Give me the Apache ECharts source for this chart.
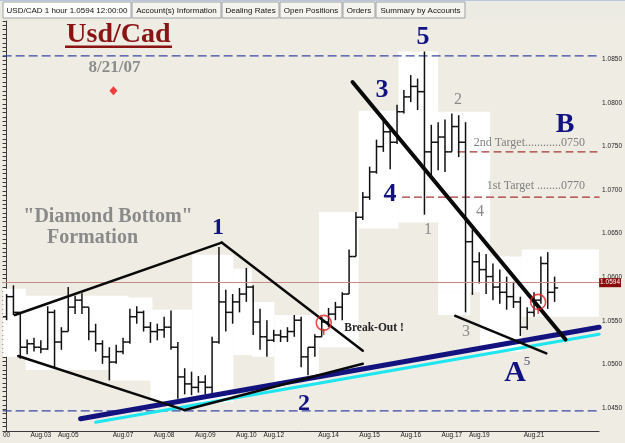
<!DOCTYPE html>
<html>
<head>
<meta charset="utf-8">
<script src="https://cdn.jsdelivr.net/npm/echarts@6/dist/echarts.min.js"></script>
<style>
  html, body { margin: 0; padding: 0; background: #eeece3; }
  #chart { width: 625px; height: 443px; }
</style>
</head>
<body>
<div id="chart"></div>
<script>
// 4-hour bars, USD/CAD, Aug.02 – Aug.21 2007
const labelNames = ['00', 'Aug.03', 'Aug.05', 'Aug.07', 'Aug.08', 'Aug.09', 'Aug.10', 'Aug.12', 'Aug.14', 'Aug.15', 'Aug.16', 'Aug.17', 'Aug.19', 'Aug.21']
const labelIdx = [0, 5, 9, 17, 23, 29, 35, 39, 47, 53, 59, 65, 69, 77]
const slotCount = 87

const opens = [1.0561, 1.0584, 1.0566, 1.0526, 1.0530, 1.0526, 1.0524, 1.0566, 1.0532, 1.0544,
  1.0572, 1.0580, 1.0572, 1.0544, 1.0530, 1.0515, 1.0509, 1.0521, 1.0532, 1.0561,
  1.0566, 1.0549, 1.0544, 1.0546, 1.0549, 1.0526, 1.0492, 1.0484, 1.0480, 1.0486,
  1.0480, 1.0532, 1.0578, 1.0566, 1.0578, 1.0587, 1.0595, 1.0555, 1.0538, 1.0534,
  1.0540, 1.0538, 1.0544, 1.0557, 1.0515, 1.0526, 1.0538, 1.0555, 1.0564, 1.0572,
  1.0587, 1.0630, 1.0675, 1.0698, 1.0727, 1.0756, 1.0773, 1.0761, 1.0796, 1.0813,
  1.0825, 1.0819, 1.0750, 1.0761, 1.0767, 1.0750, 1.0779, 1.0761, 1.0647, 1.0624,
  1.0615, 1.0607, 1.0595, 1.0589, 1.0584, 1.0578, 1.0549, 1.0566, 1.0580, 1.0622, 1.0589]
const highs = [1.0587, 1.0597, 1.0566, 1.0535, 1.0537, 1.0534, 1.0573, 1.0569, 1.0549, 1.0595,
  1.0585, 1.0588, 1.0572, 1.0553, 1.0534, 1.0526, 1.0529, 1.0537, 1.0570, 1.0573,
  1.0568, 1.0555, 1.0553, 1.0561, 1.0568, 1.0532, 1.0502, 1.0498, 1.0493, 1.0494,
  1.0538, 1.0641, 1.0592, 1.0587, 1.0594, 1.0617, 1.0597, 1.0570, 1.0557, 1.0546,
  1.0546, 1.0549, 1.0563, 1.0561, 1.0526, 1.0541, 1.0561, 1.0571, 1.0578, 1.0589,
  1.0638, 1.0681, 1.0704, 1.0733, 1.0764, 1.0787, 1.0779, 1.0804, 1.0821, 1.0838,
  1.0834, 1.0865, 1.0781, 1.0784, 1.0787, 1.0794, 1.0792, 1.0784, 1.0661, 1.0635,
  1.0633, 1.0622, 1.0615, 1.0607, 1.0601, 1.0584, 1.0572, 1.0589, 1.0630, 1.0635, 1.0607]
const lows = [1.0557, 1.0563, 1.0513, 1.0518, 1.0521, 1.0519, 1.0523, 1.0502, 1.0523, 1.0544,
  1.0564, 1.0564, 1.0534, 1.0521, 1.0507, 1.0488, 1.0507, 1.0518, 1.0530, 1.0553,
  1.0544, 1.0531, 1.0534, 1.0537, 1.0523, 1.0467, 1.0472, 1.0471, 1.0474, 1.0472,
  1.0472, 1.0530, 1.0544, 1.0553, 1.0566, 1.0578, 1.0540, 1.0523, 1.0515, 1.0532,
  1.0532, 1.0532, 1.0538, 1.0503, 1.0494, 1.0515, 1.0538, 1.0549, 1.0557, 1.0557,
  1.0587, 1.0630, 1.0672, 1.0695, 1.0725, 1.0750, 1.0730, 1.0759, 1.0794, 1.0807,
  1.0798, 1.0678, 1.0721, 1.0729, 1.0727, 1.0750, 1.0744, 1.0566, 1.0586, 1.0599,
  1.0587, 1.0580, 1.0576, 1.0569, 1.0571, 1.0539, 1.0546, 1.0561, 1.0576, 1.0570, 1.0578]
const closes = [1.0584, 1.0566, 1.0526, 1.0530, 1.0526, 1.0524, 1.0566, 1.0532, 1.0544, 1.0572,
  1.0580, 1.0572, 1.0544, 1.0530, 1.0515, 1.0509, 1.0521, 1.0532, 1.0561, 1.0566,
  1.0549, 1.0544, 1.0546, 1.0549, 1.0526, 1.0492, 1.0484, 1.0480, 1.0486, 1.0480,
  1.0532, 1.0578, 1.0566, 1.0578, 1.0587, 1.0595, 1.0555, 1.0538, 1.0534, 1.0540,
  1.0538, 1.0544, 1.0557, 1.0515, 1.0526, 1.0538, 1.0555, 1.0564, 1.0572, 1.0587,
  1.0630, 1.0675, 1.0698, 1.0727, 1.0756, 1.0773, 1.0761, 1.0796, 1.0813, 1.0825,
  1.0819, 1.0750, 1.0761, 1.0767, 1.0750, 1.0779, 1.0761, 1.0647, 1.0624, 1.0615,
  1.0607, 1.0595, 1.0589, 1.0584, 1.0578, 1.0549, 1.0566, 1.0580, 1.0622, 1.0589, 1.0594]

// drawn trend lines, [bar index, price] end points
const diamondLines = [
  [[1.2, 1.0563], [31.4, 1.0646]],
  [[31.4, 1.0646], [52.0, 1.0522]],
  [[1.7, 1.0516], [26.0, 1.0454]],
  [[26.0, 1.0454], [52.0, 1.0507]]
]
const wedgeTop = [[50.5, 1.0830], [81.6, 1.0535]]
const wedgeBottom = [[65.5, 1.0562], [78.8, 1.0519]]
const navyTrend = [[10.8, 1.0444], [86.5, 1.0549]]
const cyanTrend = [[13.0, 1.0440], [86.5, 1.0541]]
const blueLevels = [1.0860, 1.0453]
const targetLevels = [[65.9, 1.0750], [57.8, 1.0698]]
const breakPoints = [[46.3, 1.0554], [77.6, 1.0578]]
const datePoint = [[15.6, 1.0820]]
// white patches behind the price, [from bar, to bar, price top, price bottom]
const whitePatches = [
  [-0.5, 2.8, 1.0593, 1.0515], [2.8, 17.8, 1.0585, 1.0500], [15.2, 21.3, 1.0583, 1.0488],
  [21.0, 27.1, 1.0569, 1.0463], [27.1, 33.1, 1.0632, 1.0463], [33.1, 35.8, 1.0616, 1.0517],
  [35.8, 39.1, 1.0578, 1.0515], [39.1, 45.6, 1.0563, 1.0486], [45.6, 51.4, 1.0681, 1.0526],
  [51.4, 57.2, 1.0797, 1.0662], [57.2, 63.0, 1.0865, 1.0669], [63.0, 70.6, 1.0796, 1.0589],
  [63.0, 67.7, 1.0589, 1.0563], [69.1, 75.2, 1.0630, 1.0521], [75.2, 86.5, 1.0638, 1.0561]
]

const categories = []
for (let i = 0; i < slotCount; i++) {
  const k = labelIdx.indexOf(i)
  categories.push(k >= 0 ? labelNames[k] : '#' + i)
}
const bars = opens.map((o, i) => [i, o, closes[i], lows[i], highs[i]])
const lastPrice = closes[closes.length - 1]

const serif = '"Liberation Serif", "DejaVu Serif", serif'
const navy = '#11117f'
const grey = '#8a8a8a'

function txt(text, x, y, size, color, bold, align) {
  return {
    type: 'text',
    z: 50,
    style: {
      text: text, x: x, y: y,
      font: (bold ? 'bold ' : '') + size + 'px ' + serif,
      fill: color,
      align: align || 'center', textAlign: align || 'center',
      verticalAlign: 'middle', textVerticalAlign: 'middle'
    }
  }
}

function segment(points, color, width, z, dash) {
  return {
    type: 'line', xAxisIndex: 1, yAxisIndex: 0, data: points,
    showSymbol: false, silent: true, z: z,
    lineStyle: { color: color, width: width, type: dash || 'solid', cap: 'round' }
  }
}

const tabs = [
  ['USD/CAD 1 hour 1.0594 12:00:00', 3, 131],
  ['Account(s) Information', 132, 221],
  ['Dealing Rates', 222, 279],
  ['Open Positions', 280, 342],
  ['Orders', 343, 375],
  ['Summary by Accounts', 376, 465]
]
const tabGraphics = [{ type: 'rect', z: 40, shape: { x: 0, y: 0, width: 625, height: 19 }, style: { fill: '#ecebe3' } },
  { type: 'rect', z: 40, shape: { x: 0, y: 0, width: 625, height: 1 }, style: { fill: '#b9c7de' } }]
tabs.forEach((t, i) => {
  tabGraphics.push({
    type: 'rect', z: 41,
    shape: { x: t[1], y: 2, width: t[2] - t[1], height: 16 },
    style: { fill: i === 0 ? '#fdfdfb' : '#f5f4ee', stroke: '#9ea3a6', lineWidth: 1 }
  })
  tabGraphics.push({
    type: 'text', z: 42,
    style: {
      text: t[0], x: (t[1] + t[2]) / 2, y: 10.5,
      font: '8px "Liberation Sans", Arial, sans-serif', fill: '#111',
      align: 'center', textAlign: 'center', verticalAlign: 'middle', textVerticalAlign: 'middle'
    }
  })
})

const chart = echarts.init(document.getElementById('chart'))
const option = {
  animation: false,
  backgroundColor: '#eeece3',
  grid: { left: 0, right: 25, top: 21, bottom: 12 },
  xAxis: [
    {
      type: 'category', data: categories, boundaryGap: true,
      axisLine: { lineStyle: { color: '#3a3a3a', width: 1 } },
      axisTick: { inside: true, length: 4, interval: (i, v) => v[0] !== '#', lineStyle: { color: '#3a3a3a' } },
      axisLabel: {
        interval: 0, fontSize: 6.5, color: '#222', margin: 1,
        fontFamily: 'Liberation Sans',
        formatter: v => (v[0] === '#' ? '' : v)
      },
      splitLine: { show: false }
    },
    { type: 'value', min: -0.5, max: 86.5, show: false }
  ],
  yAxis: {
    type: 'value', position: 'right', min: 1.043, max: 1.09, interval: 0.0005,
    axisLine: { show: true, lineStyle: { color: '#3a3a3a' } },
    axisTick: { show: true, inside: true, length: 4, lineStyle: { color: '#3a3a3a' } },
    axisLabel: {
      interval: 0, fontSize: 6.5, color: '#222', margin: 3, fontFamily: 'Liberation Sans',
      verticalAlign: 'bottom', padding: [0, 0, 2, 0],
      formatter: v => (Math.round(v * 10000) % 50 === 0 ? v.toFixed(4) : '')
    },
    splitLine: { show: false }
  },
  graphic: tabGraphics.concat([
    txt('Usd/Cad', 118.5, 35, 28, '#8a1414', true),
    { type: 'rect', z: 50, shape: { x: 65, y: 45.5, width: 107, height: 2.5 }, style: { fill: '#8a1414' } },
    txt('8/21/07', 114.5, 68, 17, '#8c8c8c', true),
    txt('"Diamond Bottom"', 108, 217, 20, grey, true),
    txt('Formation', 92.5, 238, 20, grey, true),
    txt('1', 218, 228, 24, navy, true),
    txt('2', 304, 404, 24, navy, true),
    txt('3', 382, 90, 26, navy, true),
    txt('4', 390, 194, 26, navy, true),
    txt('5', 423, 37, 26, navy, true),
    txt('B', 565, 125, 28, navy, true),
    txt('A', 515, 373, 30, navy, true),
    txt('5', 527, 362, 13, '#4c4c72', false),
    txt('2', 458, 100, 16, grey, false),
    txt('1', 428, 230, 16, grey, false),
    txt('4', 480, 212, 16, grey, false),
    txt('3', 466, 332, 16, grey, false),
    txt('Break-Out !', 374, 328, 11.5, '#222', true),
    txt('2nd Target............0750', 585, 143, 12, '#808080', false, 'right'),
    txt('1st Target ........0770', 585, 186, 12, '#808080', false, 'right')
  ]),
  series: [
    {
      type: 'custom', name: 'patches', xAxisIndex: 1, yAxisIndex: 0, z: 1, silent: true,
      data: whitePatches,
      encode: { x: [0, 1], y: [2, 3] },
      renderItem: (params, api) => {
        const a = api.coord([api.value(0), api.value(2)])
        const b = api.coord([api.value(1), api.value(3)])
        return { type: 'rect', shape: { x: a[0], y: a[1], width: b[0] - a[0], height: b[1] - a[1] }, style: { fill: '#ffffff' } }
      }
    },
    {
      type: 'custom', name: 'USD/CAD', xAxisIndex: 0, yAxisIndex: 0, z: 3,
      data: bars,
      encode: { x: 0, y: [1, 2, 3, 4] },
      renderItem: (params, api) => {
        const x = api.value(0)
        const o = api.coord([x, api.value(1)])
        const c = api.coord([x, api.value(2)])
        const l = api.coord([x, api.value(3)])
        const h = api.coord([x, api.value(4)])
        const st = { stroke: '#111', lineWidth: 1.5 }
        return {
          type: 'group',
          children: [
            { type: 'line', shape: { x1: h[0], y1: h[1], x2: l[0], y2: l[1] }, style: st },
            { type: 'line', shape: { x1: o[0] - 3.5, y1: o[1], x2: o[0], y2: o[1] }, style: st },
            { type: 'line', shape: { x1: c[0], y1: c[1], x2: c[0] + 3.5, y2: c[1] }, style: st }
          ]
        }
      },
      markLine: {
        silent: true, symbol: ['none', 'none'],
        lineStyle: { color: '#c78888', width: 1.2, type: 'solid' },
        label: {
          show: true, position: 'end', distance: 0,
          formatter: () => lastPrice.toFixed(4),
          backgroundColor: '#8b0a0a', color: '#fff', fontSize: 6.5, padding: [1, 1, 1, 1]
        },
        data: [{ yAxis: lastPrice }]
      }
    },
    segment([[-0.5, blueLevels[0]], [86.5, blueLevels[0]]], '#3847a6', 1.2, 2, [8, 5]),
    segment([[-0.5, blueLevels[1]], [86.5, blueLevels[1]]], '#3847a6', 1.2, 2, [8, 5]),
    segment([targetLevels[0], [86.5, targetLevels[0][1]]], '#a83535', 1.2, 2, [7, 5]),
    segment([targetLevels[1], [86.5, targetLevels[1][1]]], '#a83535', 1.2, 2, [7, 5]),
    segment(cyanTrend, '#1ee6f0', 3, 4),
    segment(navyTrend, '#13137f', 5, 5),
    ...diamondLines.map(d => segment(d, '#0a0a0a', 2.5, 6)),
    segment(wedgeTop, '#0a0a0a', 4, 6),
    segment(wedgeBottom, '#0a0a0a', 2.5, 6),
    {
      type: 'scatter', xAxisIndex: 1, yAxisIndex: 0, z: 7, silent: true,
      data: breakPoints, symbol: 'rect', symbolSize: [1.6, 6], symbolOffset: [0, 9],
      itemStyle: { color: '#e02020' }
    },
    {
      type: 'scatter', xAxisIndex: 1, yAxisIndex: 0, z: 8, silent: true,
      data: breakPoints, symbol: 'circle', symbolSize: 15,
      itemStyle: { color: 'rgba(0,0,0,0)', borderColor: '#e02020', borderWidth: 1.6 }
    },
    {
      type: 'scatter', xAxisIndex: 1, yAxisIndex: 0, z: 8, silent: true,
      data: datePoint, symbol: 'diamond', symbolSize: [8, 9],
      itemStyle: { color: '#ee1111' }
    }
  ]
}
chart.setOption(option)
</script>
</body>
</html>
